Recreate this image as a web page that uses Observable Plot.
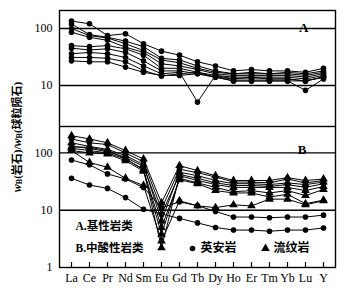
<!DOCTYPE html>
<html><head><meta charset="utf-8">
<script src="https://cdn.jsdelivr.net/npm/d3@7"></script>
<script src="https://cdn.jsdelivr.net/npm/@observablehq/plot@0.6"></script>
<style>
html,body{margin:0;padding:0;background:#fff;}
#chart{position:relative;width:352px;height:293px;overflow:hidden;background:#fff;}
#chart svg{position:absolute;left:0;}
</style></head><body><div id="chart"></div>
<script>
const elements = ["La","Ce","Pr","Nd","Sm","Eu","Gd","Tb","Dy","Ho","Er","Tm","Yb","Lu","Y"];

// Panel A: 基性岩类 (all circles)
const A1 = [135,121,75,81,54,40,34,26,22,18,19,18,18,17,20];
const A2 = [120,78,70,60,48,30,28,22,18,16,17,16,17,16,18];
const A3 = [100,75,68,54,41,28,25,20,17,16,16,16,16,15,17];
const A4 = [86,70,62,47,38,24,22,19,16,15,15,15,15,14,16];
const A5 = [50,48,50,44,34,20,20,17,15,14,14,14,14,13,15];
const A6 = [45,42,44,38,27,18,18,16,14,13,14,13,13,12,14];
const A7 = [36,38,36,31,22,16,17,5.1,15,13,13,13,13,12,14];
const A8 = [31,31,30,26,18.3,14.6,16,17,14,12,12,12,12,8.2,13];
const A9 = [27,26,26,21,17,15,15,16,14,12,12,12,12,12,14];

// Panel B: 中酸性岩类 (● 英安岩, ▲ 流纹岩)
const B1 = [200,175,150,110,78,13.5,60,49,40,33,33,33,37,33,35];
const B2 = [175,150,140,100,70,10.5,52,45,38,31,31,30,35,30,33];
const B3 = [150,130,115,90,62,6.5,46,40,33,29,29,28,30,28,31];
const B4 = [130,120,105,84,58,8.5,42,36,30,27,27,26,28,25,29];
const B5 = [120,110,100,78,52,2.2,40,33,28,25,25,25,25,22,26];
const B6 = [110,100,96,73,48,3.8,36,30,25,21,22,20,22,18,23];
const B7 = [128,125,110,80,50,5,34,29,22,20,20,17,19,13,15];
const B8 = [75,62,43,35,25,11,14,12,9.5,7.6,7.6,7.4,7.6,7.6,8.2];
const B9 = [110,68,56,36,27,2.9,14.6,11.9,11.1,12.4,11.9,15.6,15.6,12.4,14.6];
const B10 = [36,27.5,24,16.6,10.4,8.6,7.2,6.0,5.0,4.5,4.5,4.3,4.5,4.5,4.9];

const seriesA = {A1,A2,A3,A4,A5,A6,A7,A8,A9};
const symA = {A1:"circle",A2:"circle",A3:"circle",A4:"circle",A5:"circle",A6:"circle",A7:"circle",A8:"circle",A9:"circle"};
const seriesB = {B1,B2,B3,B4,B5,B6,B7,B8,B9,B10};
const symB = {B1:"triangle",B2:"circle",B3:"triangle",B4:"circle",B5:"triangle",B6:"triangle",B7:"triangle",B8:"circle",B9:"triangle",B10:"circle"};

const yTicksA = [10, 100];
const yTicksB = [1, 10, 100];
const panelLabels = ["A", "B"];
const legendGroups = ["A.基性岩类", "B.中酸性岩类"];
const legendRocks = ["英安岩", "流纹岩"];
const yTitleParts = ["w", "B", "(岩石)/", "w", "B", "(球粒陨石)"];

function longData(series, sym) {
  const out = [];
  for (const [name, vals] of Object.entries(series)) {
    vals.forEach((v, i) => out.push({s: name, el: elements[i], v, sym: sym[name]}));
  }
  return out;
}
const dataA = longData(seriesA, symA);
const dataB = longData(seriesB, symB);

const serif = "Liberation Serif, Times New Roman, serif";
const cjk = "Liberation Serif, Noto Sans CJK SC, serif";
const W = 352, mL = 59, mR = 17;
const xOpt = {type: "point", domain: elements, padding: 0.5, axis: null};

const plotA = Plot.plot({
  width: W, height: 126, marginTop: 10, marginBottom: 0, marginLeft: mL, marginRight: mR,
  style: {fontFamily: serif, fontSize: "12px", color: "black", background: "transparent"},
  x: xOpt,
  y: {type: "log", domain: [1.9, 207], axis: null},
  marks: [
    Plot.ruleY(yTicksA, {stroke: "black", strokeWidth: 1.4}),
    Plot.frame({stroke: "black", strokeWidth: 1.4}),
    Plot.axisY(yTicksA, {tickSize: 0, tickPadding: 7, tickFormat: d => String(d), label: null, fontSize: 12, fontFamily: serif}),
    Plot.line(dataA, {x: "el", y: "v", z: "s", stroke: "black", strokeWidth: 1}),
    Plot.dot(dataA.filter(d => d.sym === "circle"), {x: "el", y: "v", symbol: "circle", r: 2.8, fill: "black"}),
    Plot.text([panelLabels[0]], {frameAnchor: "top-right", dx: -27, dy: 12, text: d => d, fontSize: 13, fontWeight: "bold", fontFamily: serif, fill: "black"})
  ]
});

const plotB = Plot.plot({
  width: W, height: 167, marginTop: 0, marginBottom: 26, marginLeft: mL, marginRight: mR,
  style: {fontFamily: serif, fontSize: "12px", color: "black", background: "transparent"},
  x: xOpt,
  y: {type: "log", domain: [1, 289], axis: null},
  marks: [
    Plot.ruleY(yTicksB.filter(d => d > 1), {stroke: "black", strokeWidth: 1.4}),
    Plot.frame({stroke: "black", strokeWidth: 1.4}),
    Plot.ruleX(elements, {x: d => d, insetTop: 136, stroke: "black", strokeWidth: 1.2}),
    Plot.axisY(yTicksB, {tickSize: 0, tickPadding: 7, tickFormat: d => String(d), label: null, fontSize: 12, fontFamily: serif}),
    Plot.axisX({tickSize: 0, tickPadding: 6, label: null, fontSize: 12, fontFamily: serif}),
    Plot.line(dataB, {x: "el", y: "v", z: "s", stroke: "black", strokeWidth: 1}),
    Plot.dot(dataB.filter(d => d.sym === "circle"), {x: "el", y: "v", symbol: "circle", r: 2.8, fill: "black"}),
    Plot.dot(dataB.filter(d => d.sym === "triangle"), {x: "el", y: "v", symbol: "triangle", r: 3.2, fill: "black"}),
    Plot.text([panelLabels[1]], {frameAnchor: "top-right", dx: -29, dy: 18, text: d => d, fontSize: 13, fontWeight: "bold", fontFamily: serif, fill: "black"}),
    Plot.text([legendGroups[0]], {frameAnchor: "top-left", dx: 16, dy: 100, text: d => d, textAnchor: "start", lineAnchor: "middle", fontSize: 11.5, fontFamily: cjk, fontWeight: 600, fill: "black"}),
    Plot.text([legendGroups[1]], {frameAnchor: "top-left", dx: 16, dy: 122, text: d => d, textAnchor: "start", lineAnchor: "middle", fontSize: 11.5, fontFamily: cjk, fontWeight: 600, fill: "black"}),
    Plot.dot([legendRocks[0]], {frameAnchor: "top-left", dx: 133, dy: 122, symbol: "circle", r: 2.8, fill: "black"}),
    Plot.text([legendRocks[0]], {frameAnchor: "top-left", dx: 141, dy: 122, text: d => d, textAnchor: "start", lineAnchor: "middle", fontSize: 12, fontFamily: cjk, fontWeight: 600, fill: "black"}),
    Plot.dot([legendRocks[1]], {frameAnchor: "top-left", dx: 206, dy: 122, symbol: "triangle", r: 3.2, fill: "black"}),
    Plot.text([legendRocks[1]], {frameAnchor: "top-left", dx: 214, dy: 122, text: d => d, textAnchor: "start", lineAnchor: "middle", fontSize: 12, fontFamily: cjk, fontWeight: 600, fill: "black"})
  ]
});

const chart = document.getElementById("chart");
plotA.style.top = "0px";
plotB.style.top = "126px";
chart.appendChild(plotA);
chart.appendChild(plotB);

// vertical y-axis title with subscripts
const ov = d3.create("svg").attr("width", W).attr("height", 293).style("top", "0px").style("pointer-events", "none");
const t = ov.append("text")
  .attr("transform", "translate(17,137) rotate(-90)")
  .attr("text-anchor", "middle")
  .attr("dominant-baseline", "central")
  .attr("font-family", cjk)
  .attr("font-size", 11)
  .attr("font-weight", 600)
  .attr("fill", "black");
yTitleParts.forEach((p, i) => {
  const ts = t.append("tspan").text(p);
  if (p === "w") ts.attr("font-style", "italic").attr("font-size", 12);
  if (p === "B") { ts.attr("font-size", 8).attr("dy", 2); }
  if (i > 0 && yTitleParts[i-1] === "B") ts.attr("dy", -2);
});
chart.appendChild(ov.node());
</script></body></html>
